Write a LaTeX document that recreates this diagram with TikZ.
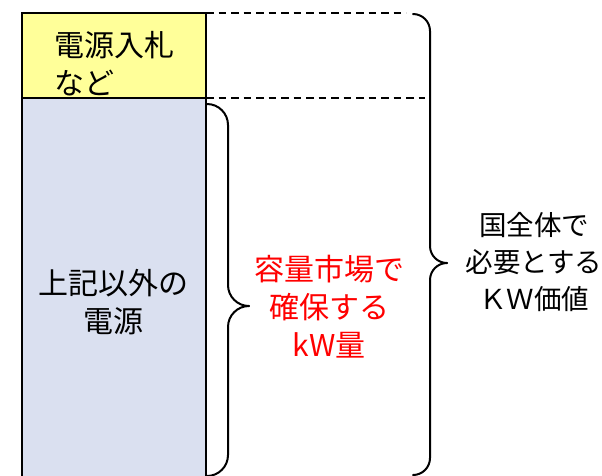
\documentclass[tikz,border=0pt]{standalone}
\usepackage{fontspec}
\setmainfont{Noto Sans CJK JP}
\definecolor{boxyellow}{HTML}{FFFF99}
\definecolor{boxblue}{HTML}{DAE0F0}
\definecolor{txtred}{HTML}{FF0000}
\begin{document}
\begin{tikzpicture}[x=1pt,y=-1pt,
  boxline/.style={line width=2pt, draw=black, outer sep=0pt, inner sep=0pt, anchor=north west},
  bracestyle/.style={line width=2pt, line cap=round, line join=round},
  dashline/.style={line width=1.6pt, dash pattern=on 7.5pt off 5pt},
  txt/.style={font=\fontsize{30}{38}\selectfont, align=center, inner sep=0pt},
  txtr/.style={font=\fontsize{27.5}{37}\selectfont, align=center, inner sep=0pt},
  ]
\useasboundingbox (0,0) rectangle (602,475);
\clip (0,0) rectangle (602,475);
\fill[white] (0,0) rectangle (602,475);
% boxes
\node[boxline, fill=boxblue, minimum width=184pt, minimum height=384pt] (lower) at (22,98) {};
\node[boxline, fill=boxyellow, minimum width=184pt, minimum height=85pt] (upper) at (22,13) {};
% dashed guide lines
\coordinate (dtop) at (406,13);
\coordinate (dmid) at (425,98);
\draw[dashline] (upper.north east) -- (dtop);
\draw[dashline] (upper.south east) -- (dmid);
% inner brace
\coordinate (ib1) at (207,104);
\coordinate (ibtip) at (249,306);
\coordinate (ib2) at (207,476);
\draw[bracestyle, rounded corners=21pt] (ib1) -- (228,104) -- (228,306) -- (ibtip);
\draw[bracestyle, rounded corners=21pt] (ibtip) -- (228,306) -- (228,476) -- (ib2);
% outer brace
\coordinate (ob1) at (413,14);
\coordinate (obtip) at (447,263);
\coordinate (ob2) at (413,475);
\draw[bracestyle, rounded corners=17pt] (ob1) -- (430,14) -- (430,263) -- (obtip);
\draw[bracestyle, rounded corners=17pt] (obtip) -- (430,263) -- (430,475) -- (ob2);
% texts
\node[txt, align=left] (ttop) at (114,64) {電源入札\\など};
\node[txt] (tleft) at (113,302) {上記以外の\\電源};
\node[txt, text=txtred] (tmid) at (329,307) {容量市場で\\確保する\\kW量};
\node[txtr] (tright) at (534,262) {国全体で\\必要とする\\ＫＷ価値};
\end{tikzpicture}
\end{document}
